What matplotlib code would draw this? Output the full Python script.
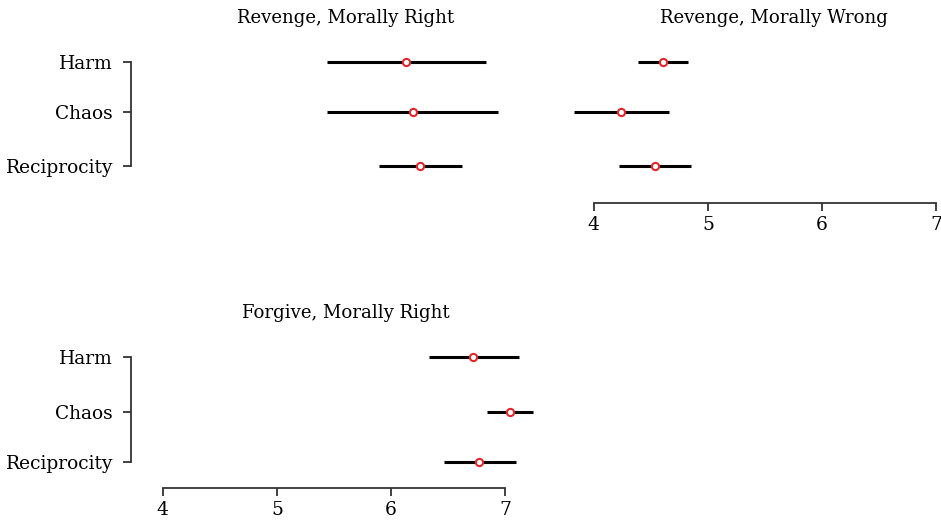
import numpy as np
import matplotlib as mpl
mpl.use('Agg')
import matplotlib.pyplot as plt

plt.rcParams['font.family'] = ['DejaVu Serif']

# data: mean and interval per dimension
labels = ['Harm', 'Chaos', 'Reciprocity']

rr_mean = [6.13, 6.19, 6.25]
rr_lo = [5.44, 5.44, 5.89]
rr_hi = [6.83, 6.94, 6.62]

rw_mean = [4.61, 4.24, 4.54]
rw_lo = [4.39, 3.83, 4.22]
rw_hi = [4.83, 4.66, 4.85]

fr_mean = [6.72, 7.04, 6.77]
fr_lo = [6.33, 6.84, 6.46]
fr_hi = [7.12, 7.24, 7.09]

xticks = [4, 5, 6, 7]

W, H = 941, 520
fig = plt.figure(figsize=(W/100, H/100), dpi=100)

ppu = 114.2  # pixels per x unit
def make_ax(left_px, top_px, bottom_px):
    ax = fig.add_axes([left_px/W, 1-bottom_px/H, 430/W, (bottom_px-top_px)/H])
    x0 = 4 - 31.7/ppu
    ax.set_xlim(x0, x0 + 430/ppu)
    return ax

def panel(ax, mean, lo, hi, rows, y_top, y_bot, title, yaxis, xaxis, tx=0.5):
    ax.set_ylim(y_bot, y_top)
    for i in range(len(labels)):
        ax.plot([lo[i], hi[i]], [rows[i], rows[i]], color='black', lw=2.2,
                solid_capstyle='butt', zorder=2)
    ax.plot(mean, rows, 'o', mfc='white', mec='#e3262b', ms=5.2, mew=1.5, zorder=3)
    for s in ['top', 'right']:
        ax.spines[s].set_visible(False)
    for s in ['left', 'bottom']:
        ax.spines[s].set_color('#333333')
        ax.spines[s].set_linewidth(1.3)
    if yaxis:
        ax.spines['left'].set_bounds(rows[0], rows[-1])
        ax.set_yticks(rows)
        ax.set_yticklabels(labels, fontsize=13.4)
        ax.tick_params(axis='y', length=6, width=1.3, color='#333333', pad=7)
    else:
        ax.spines['left'].set_visible(False)
        ax.set_yticks([])
    if xaxis:
        ax.spines['bottom'].set_bounds(xticks[0], xticks[-1])
        ax.set_xticks(xticks)
        ax.set_xticklabels([str(t) for t in xticks], fontsize=13.4)
        ax.tick_params(axis='x', length=6, width=1.3, color='#333333', pad=3.5)
    else:
        ax.spines['bottom'].set_visible(False)
        ax.set_xticks([])
    ax.patch.set_visible(False)
    ax.set_title(title, fontsize=13.1, pad=12, x=tx)

top_rows = [0, 1, 2.114]
bot_rows = [0, 1, 1.92]

ax1 = make_ax(131, 40, 203.3)
panel(ax1, rr_mean, rr_lo, rr_hi, top_rows, -0.457, 2.862,
      'Revenge, Morally Right', True, False)
ax2 = make_ax(562, 40, 203.3)
panel(ax2, rw_mean, rw_lo, rw_hi, top_rows, -0.457, 2.862,
      'Revenge, Morally Wrong', False, True, tx=0.494)
ax3 = make_ax(131, 335, 488.3)
panel(ax3, fr_mean, fr_lo, fr_hi, bot_rows, -0.408, 2.395,
      'Forgive, Morally Right', True, True)

fig.savefig('out.png', dpi=100)
